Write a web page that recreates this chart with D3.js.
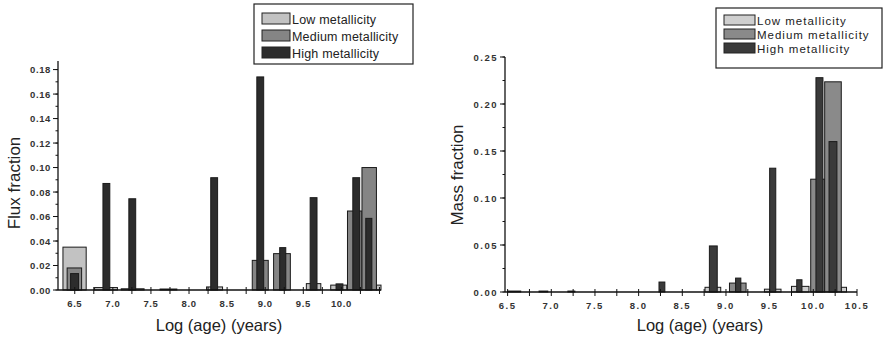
<!DOCTYPE html>
<html>
<head>
<meta charset="utf-8">
<script src="https://d3js.org/d3.v7.min.js"></script>
<style>
  body { margin: 0; background: #fff; }
  svg { display: block; font-family: "Liberation Sans", Arial, sans-serif; }
</style>
</head>
<body>
<svg id="chart" width="883" height="340"></svg>
<script>
// series names
var seriesNames = ["Low metallicity", "Medium metallicity", "High metallicity"];

// left panel: flux fraction, bins are [start, end] in log(age)
var fluxLowBins = [[6.345, 6.65], [6.76, 7.06], [7.11, 7.41], [7.62, 7.84], [8.23, 8.44], [9.54, 9.73], [9.86, 10.07], [10.46, 10.52]];
var fluxLowValues = [0.035, 0.002, 0.001, 0.0008, 0.0025, 0.0052, 0.004, 0.004];
var fluxMedBins = [[6.40, 6.59], [8.83, 9.04], [9.11, 9.33], [10.08, 10.27], [10.27, 10.46]];
var fluxMedValues = [0.018, 0.0242, 0.0297, 0.0645, 0.100];
var fluxHighBins = [[6.445, 6.55], [6.87, 6.96], [7.21, 7.30], [8.285, 8.375], [8.89, 8.98], [9.19, 9.27], [9.59, 9.68], [9.93, 10.02], [10.15, 10.24], [10.32, 10.40]];
var fluxHighValues = [0.0134, 0.087, 0.0745, 0.0917, 0.174, 0.0346, 0.0754, 0.005, 0.0917, 0.0585];

// right panel: mass fraction
var massLowBins = [[6.50, 6.65], [6.86, 6.96], [7.19, 7.27], [8.76, 8.94], [9.44, 9.63], [9.75, 9.95], [10.32, 10.38]];
var massLowValues = [0.001, 0.001, 0.001, 0.005, 0.003, 0.006, 0.005];
var massMedBins = [[9.04, 9.23], [9.97, 10.13], [10.13, 10.32]];
var massMedValues = [0.0095, 0.120, 0.2236];
var massHighBins = [[8.233, 8.30], [8.81, 8.90], [9.11, 9.17], [9.50, 9.57], [9.81, 9.87], [10.03, 10.11], [10.18, 10.27]];
var massHighValues = [0.0106, 0.049, 0.0148, 0.1317, 0.013, 0.228, 0.160];

// axis ticks
var fluxYTicks = [0, 0.02, 0.04, 0.06, 0.08, 0.10, 0.12, 0.14, 0.16, 0.18];
var massYTicks = [0, 0.05, 0.10, 0.15, 0.20, 0.25];
var fluxXTicks = [6.5, 7.0, 7.5, 8.0, 8.5, 9.0, 9.5, 10.0];
var massXTicks = [6.5, 7.0, 7.5, 8.0, 8.5, 9.0, 9.5, 10.0, 10.5];

var svg = d3.select("#chart");

function zip(bins, values) {
	return bins.map(function(b, i) { return {x0: b[0], x1: b[1], v: values[i]}; });
}

function drawPanel(o) {
	var x = d3.scaleLinear().domain(o.xDomain).range(o.xRange);
	var y = d3.scaleLinear().domain(o.yDomain).range(o.yRange);
	var g = svg.append("g");

	// bars, low first so the darker ones sit on top
	o.series.forEach(function(s, si) {
		g.append("g").selectAll("rect")
			.data(zip(s.bins, s.values))
			.enter().append("rect")
				.attr("x", function(d) { return x(d.x0); })
				.attr("width", function(d) { return x(d.x1) - x(d.x0); })
				.attr("y", function(d) { return y(d.v); })
				.attr("height", function(d) { return y(0) - y(d.v); })
				.attr("fill", o.colors[si])
				.attr("stroke", "#1a1a1a")
				.attr("stroke-width", 1);
	});

	// y axis
	var yAxis = g.append("g").attr("transform", "translate(" + o.xRange[0] + ",0)");
	yAxis.append("line")
		.attr("y1", o.yRange[0]).attr("y2", o.yRange[1])
		.attr("stroke", "#111").attr("stroke-width", 1.3);
	var ymin = d3.range(0, o.yDomain[1] + 1e-9, o.yMinorStep);
	yAxis.selectAll(".ymin").data(ymin).enter().append("line")
		.attr("x1", -2.5).attr("x2", 0)
		.attr("y1", function(d) { return y(d); }).attr("y2", function(d) { return y(d); })
		.attr("stroke", "#111");
	yAxis.selectAll(".ymaj").data(o.yTicks).enter().append("line")
		.attr("x1", -5).attr("x2", 0)
		.attr("y1", function(d) { return y(d); }).attr("y2", function(d) { return y(d); })
		.attr("stroke", "#111");
	yAxis.selectAll("text").data(o.yTicks).enter().append("text")
		.attr("x", -7).attr("y", function(d) { return y(d) + 3.5; })
		.attr("text-anchor", "end")
		.attr("font-size", 9.5).attr("font-weight", "bold")
		.attr("letter-spacing", o.tickSpacing)
		.attr("fill", "#333")
		.text(function(d) { return d.toFixed(2); });

	// x axis
	var base = y(0);
	var xAxis = g.append("g");
	xAxis.append("line")
		.attr("x1", o.xRange[0]).attr("x2", o.xRange[1])
		.attr("y1", base).attr("y2", base)
		.attr("stroke", "#111").attr("stroke-width", 1.3);
	var xmin = d3.range(6.5, o.xDomain[1] + 1e-9, 0.25);
	xAxis.selectAll(".xt").data(xmin).enter().append("line")
		.attr("x1", function(d) { return x(d); }).attr("x2", function(d) { return x(d); })
		.attr("y1", base - 3).attr("y2", base + 4)
		.attr("stroke", "#111");
	xAxis.selectAll("text").data(o.xTicks).enter().append("text")
		.attr("x", function(d) { return x(d); }).attr("y", base + 17)
		.attr("text-anchor", "middle")
		.attr("font-size", 9.5).attr("font-weight", "bold")
		.attr("letter-spacing", o.tickSpacing)
		.attr("fill", "#333")
		.text(function(d) { return d.toFixed(1); });

	// axis titles
	g.append("text")
		.attr("transform", "translate(" + o.yTitlePos[0] + "," + o.yTitlePos[1] + ") rotate(-90)")
		.attr("text-anchor", "middle")
		.attr("font-size", 17).attr("fill", "#222")
		.text(o.yTitle);
	g.append("text")
		.attr("x", o.xTitlePos[0]).attr("y", o.xTitlePos[1])
		.attr("text-anchor", "middle")
		.attr("font-size", 16.5).attr("fill", "#222")
		.text("Log (age) (years)");

	// legend
	var L = o.legend;
	var lg = g.append("g");
	lg.append("rect")
		.attr("x", L.x).attr("y", L.y).attr("width", L.w).attr("height", L.h)
		.attr("fill", "#fff").attr("stroke", "#222").attr("stroke-width", 1.2);
	seriesNames.forEach(function(name, i) {
		var ry = L.y + L.top + i * L.step;
		lg.append("rect")
			.attr("x", L.x + 8).attr("y", ry)
			.attr("width", L.sw).attr("height", L.sh)
			.attr("fill", o.colors[i]).attr("stroke", "#222");
		lg.append("text")
			.attr("x", L.x + 10 + L.sw).attr("y", ry + L.sh)
			.attr("font-size", L.fs).attr("letter-spacing", L.ls)
			.attr("fill", "#222")
			.text(name);
	});
}

drawPanel({
	xDomain: [6.28, 10.52], xRange: [58, 381],
	yDomain: [0, 0.187], yRange: [290, 61],
	yTicks: fluxYTicks, yMinorStep: 0.01, xTicks: fluxXTicks,
	tickSpacing: 0.6,
	colors: ["#c2c2c2", "#858585", "#2c2c2c"],
	series: [
		{bins: fluxLowBins, values: fluxLowValues},
		{bins: fluxMedBins, values: fluxMedValues},
		{bins: fluxHighBins, values: fluxHighValues}
	],
	yTitle: "Flux fraction", yTitlePos: [20, 183],
	xTitlePos: [219, 331],
	legend: {x: 254, y: 4, w: 159, h: 60, top: 9, step: 17, sw: 28, sh: 11, fs: 12.5, ls: 0.2}
});

drawPanel({
	xDomain: [6.47, 10.5], xRange: [505, 857],
	yDomain: [0, 0.25], yRange: [292, 57],
	yTicks: massYTicks, yMinorStep: 0.025, xTicks: massXTicks,
	tickSpacing: 1.5,
	colors: ["#cfcfcf", "#8a8a8a", "#3a3a3a"],
	series: [
		{bins: massLowBins, values: massLowValues},
		{bins: massMedBins, values: massMedValues},
		{bins: massHighBins, values: massHighValues}
	],
	yTitle: "Mass fraction", yTitlePos: [463, 175],
	xTitlePos: [700, 331],
	legend: {x: 716, y: 8, w: 166, h: 60, top: 7, step: 14, sw: 31, sh: 10, fs: 11.5, ls: 1}
});
</script>
</body>
</html>
